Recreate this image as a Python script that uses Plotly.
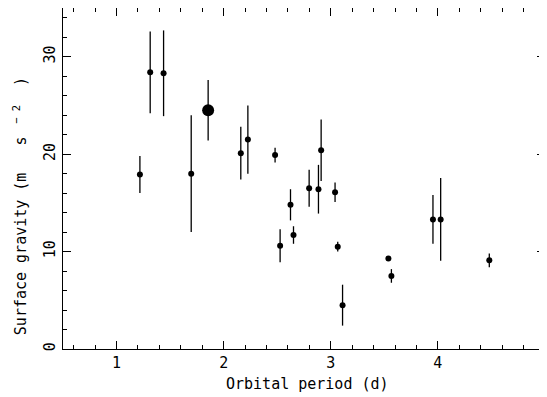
import plotly.graph_objects as go

# Orbital period (d)
period = [1.218, 1.314, 1.439, 1.697, 2.160, 2.226, 2.480, 2.527, 2.624, 2.652,
          2.798, 2.885, 2.910, 3.040, 3.065, 3.110, 3.538, 3.566, 3.954, 4.026, 4.480]
# Surface gravity (m s^-2)
gravity = [17.9, 28.4, 28.3, 18.0, 20.1, 21.5, 19.9, 10.6, 14.8, 11.7,
           16.5, 16.4, 20.4, 16.1, 10.5, 4.5, 9.3, 7.5, 13.3, 13.3, 9.1]
gravity_err = [1.9, 4.2, 4.4, 6.0, 2.7, 3.5, 0.75, 1.7, 1.6, 0.9,
               1.9, 2.5, 3.15, 1.0, 0.5, 2.1, 0.0, 0.7, 2.5, 4.25, 0.7]

# Highlighted object (large symbol)
hl_period = [1.855]
hl_gravity = [24.5]
hl_err = [3.1]

FONT = "DejaVu Sans Mono"
NB = "\u00a0"

fig = go.Figure()
fig.add_trace(go.Scatter(
    x=period, y=gravity, mode="markers",
    marker=dict(color="black", size=6),
    error_y=dict(type="data", array=gravity_err, visible=True,
                 color="black", thickness=1.3, width=0),
    showlegend=False,
))
fig.add_trace(go.Scatter(
    x=hl_period, y=hl_gravity, mode="markers",
    marker=dict(color="black", size=12),
    error_y=dict(type="data", array=hl_err, visible=True,
                 color="black", thickness=1.3, width=0),
    showlegend=False,
))

axis_common = dict(
    showgrid=False, zeroline=False, showline=True, linecolor="black", linewidth=1,
    ticks="inside", ticklen=8, tickwidth=1, tickcolor="black", mirror="allticks",
    tickfont=dict(family=FONT, size=15, color="black"),
    automargin=False, ticklabeloverflow="allow",
)

fig.update_xaxes(
    range=[0.5, 5.0], tickmode="array", tickvals=[1, 2, 3, 4, 5],
    ticktext=["1", "2", "3", "4", "5"],
    minor=dict(ticks="inside", ticklen=4, dtick=0.2, tick0=0, tickcolor="black", showgrid=False),
    ticklabelstandoff=0,
    **axis_common,
)
fig.update_yaxes(
    range=[0, 35], tickmode="array", tickvals=[0, 10, 20, 30],
    ticktext=["0", "10", "20", "30"], tickangle=-90,
    minor=dict(ticks="inside", ticklen=4, dtick=2, tick0=0, tickcolor="black", showgrid=False),
    ticklabelstandoff=1,
    **axis_common,
)

fig.add_annotation(
    text="Orbital period (d)", xref="paper", yref="paper",
    x=0.508, y=-0.1026, xanchor="center", yanchor="middle", showarrow=False,
    font=dict(family=FONT, size=15, color="black"),
)
ylabel = ("Surface gravity (m" + NB * 3 + "s<sup>" + NB * 2 + "−" + NB + "2" + NB * 3
          + "</sup>)")
fig.add_annotation(
    text=ylabel, xref="paper", yref="paper",
    x=-0.089, y=0.035, xanchor="center", yanchor="bottom", textangle=-90, showarrow=False,
    font=dict(family=FONT, size=15, color="black"),
)

fig.update_layout(
    width=539, height=389,
    margin=dict(l=55, r=2, t=0, b=48, autoexpand=False),
    plot_bgcolor="white", paper_bgcolor="white",
)

fig.write_html("out.html")
